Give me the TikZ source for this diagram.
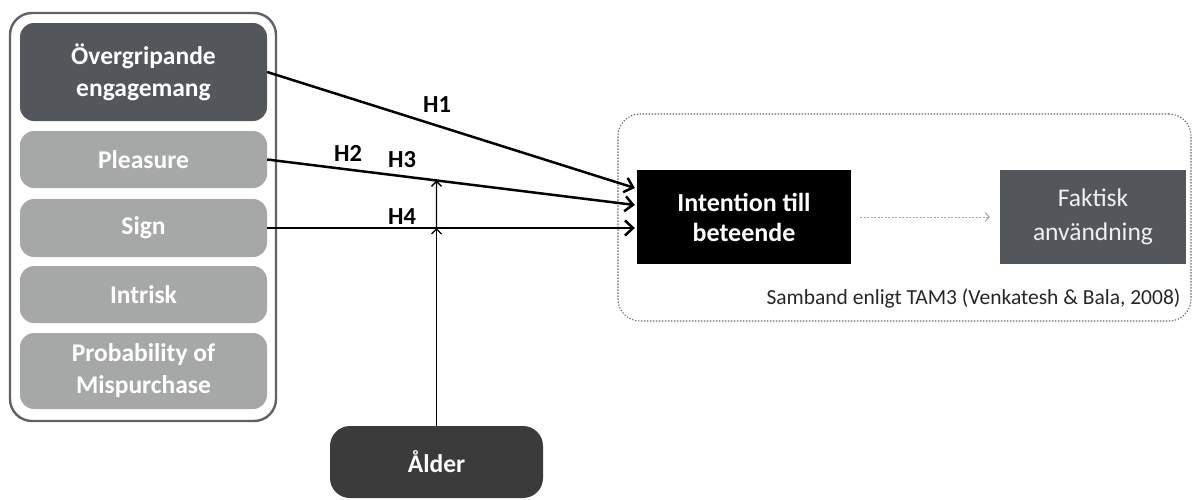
\documentclass[tikz,border=0pt]{standalone}
\usepackage{fontspec}
\setmainfont{Carlito}
\usetikzlibrary{arrows.meta,calc}

\definecolor{darkgrey}{HTML}{53565A}
\definecolor{lightgrey}{HTML}{A6A8A7}
\definecolor{agegrey}{HTML}{3B3B3B}
\definecolor{framegrey}{HTML}{5E6168}

\begin{document}
\begin{tikzpicture}[x=1pt,y=-1pt,>={Straight Barb[length=8pt,width=15pt]}]
	
	% Styles for the boxes and arrows
	\tikzset{
		factor/.style={rectangle,rounded corners=14pt,fill=lightgrey,text=white,
			font=\fontsize{25.5}{32}\selectfont\bfseries,align=center,
			minimum width=247pt,inner sep=0pt},
		hyp/.style={->,line width=2.5pt},
		hlabel/.style={font=\fontsize{24.5}{28}\selectfont\bfseries},
		tambox/.style={rectangle,minimum width=214pt,minimum height=94pt,
			align=center,inner sep=0pt}
	}
	
	\useasboundingbox (0,0) rectangle (1193,499);
	
	%========================================
	% Left: the factor group
	%========================================
	\node[draw=framegrey,line width=2.4pt,rounded corners=22pt,
	minimum width=266pt,minimum height=408pt] (group) at (143,217) {};
	
	\node[factor,fill=darkgrey,minimum height=98pt] (engage) at (143.5,72)
	{Övergripande\\engagemang};
	\node[factor,minimum height=57pt] (pleasure) at (143.5,159.5) {Pleasure};
	\node[factor,minimum height=58pt] (sign) at (143.5,228) {Sign};
	\node[factor,minimum height=57pt] (intrisk) at (143.5,294.5) {Intrisk};
	\node[factor,minimum height=76pt] (prob) at (143.5,371)
	{Probability of\\Mispurchase};
	
	%========================================
	% Right: relation from TAM3
	%========================================
	\node[draw=black!60,line width=1.1pt,dash pattern=on 1.3pt off 1.7pt,
	rounded corners=22pt,minimum width=573pt,minimum height=207pt]
	(tam) at (904.5,217.5) {};
	
	\node[tambox,fill=black,text=white,
	font=\fontsize{26}{30}\selectfont\bfseries] (intention) at (744,217)
	{Intention till\\beteende};
	\node[tambox,fill=darkgrey,text=white!88!gray,minimum width=186pt,
	font=\fontsize{25.5}{34}\selectfont] (faktisk) at (1093,217)
	{Faktisk\\användning};
	\draw[->,gray!70,dash pattern=on 2pt off 1.5pt,line width=1pt,
	>={Straight Barb[length=4pt,width=9pt]},shorten <=9pt,shorten >=10pt]
	(intention.east) -- (faktisk.west);
	
	\node[anchor=east,text=black!85,font=\fontsize{21.5}{24}\selectfont]
	(source) at (1184,298) {Samband enligt TAM3 (Venkatesh \& Bala, 2008)};
	
	%========================================
	% Hypotheses H1--H4
	%========================================
	\coordinate (in1) at ($(intention.west)+(-2,-29)$);
	\coordinate (in2) at ($(intention.west)+(-2,-12)$);
	
	\draw[hyp] (engage.east) -- (in1);
	\draw[hyp] (pleasure.east) -- (in2);
	\draw[hyp] (sign.east) -- ($(sign.east -| intention.west)+(-2,0)$);
	
	\node[hlabel] (h1) at (437,105) {H1};
	\node[hlabel] (h2) at (348,153) {H2};
	\node[hlabel] (h3) at (402,160) {H3};
	\node[hlabel] (h4) at (402,217) {H4};
	
	%========================================
	% Moderator: age
	%========================================
	\node[rectangle,rounded corners=20pt,fill=agegrey,text=white,
	font=\fontsize{25.5}{28}\selectfont\bfseries,
	minimum width=213pt,minimum height=72pt] (age) at (436.5,462) {Ålder};
	
	\coordinate (cross4) at (age.north |- sign.east);
	\coordinate (cross3) at (intersection of pleasure.east--in2 and age.north--age.south);
	
	\draw[->,line width=1.4pt,>={Straight Barb[length=5pt,width=10pt]}]
	(age.north) -- (cross4);
	\draw[->,line width=1.4pt,>={Straight Barb[length=5pt,width=10pt]}]
	(cross4) -- (cross3);
	
\end{tikzpicture}
\end{document}
